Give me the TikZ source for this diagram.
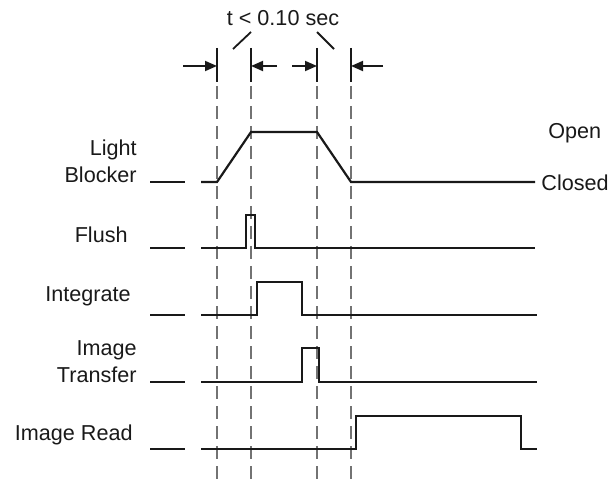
\documentclass[tikz,border=0pt]{standalone}
\usepackage{fontspec}
\setmainfont{Liberation Sans}
\usetikzlibrary{arrows.meta}
\tikzset{
  sig/.style={line width=1.1pt, black!90},
  guide/.style={gray!90!black, line width=0.6pt, dash pattern=on 6.5pt off 3.5pt},
  tick/.style={line width=0.9pt, black!90},
  dimarrow/.style={line width=0.9pt, black!90, -{Triangle[length=6pt,width=5pt]}},
  lbl/.style={font=\fontsize{10.8}{13.5}\selectfont, inner sep=0pt, text=black!90}
}
\begin{document}
\begin{tikzpicture}[x=0.5pt, y=-0.5pt]
\useasboundingbox (0,0) rectangle (609,480);
% time marks
\foreach \t in {217,251,317,351}{
  \draw[tick] (\t,48) -- (\t,82);
  \draw[guide] (\t,86) -- (\t,480);
}
\coordinate (m1) at (217,66); \coordinate (m2) at (251,66);
\coordinate (m3) at (317,66); \coordinate (m4) at (351,66);
\draw[dimarrow] (183,66) -- (m1);
\draw[dimarrow] (277,66) -- (m2);
\draw[dimarrow] (292,66) -- (m3);
\draw[dimarrow] (383,66) -- (m4);
\node[lbl] (tmax) at (283,18) {t < 0.10 sec};
\draw[tick] (233,49) -- (251,32);
\draw[tick] (317,32) -- (334,49);

% signal names
\node[lbl, anchor=east, align=right] (blocker) at (137,161) {Light\\Blocker};
\node[lbl, anchor=east] (flush) at (128,235) {Flush};
\node[lbl, anchor=east] (integ) at (131,296) {Integrate};
\node[lbl, anchor=east, align=right] (xfer) at (137,362) {Image\\Transfer};
\node[lbl, anchor=east] (read) at (133,435) {Image Read};
\node[lbl, anchor=west] (open) at (548,133) {Open};
\node[lbl, anchor=west] (closed) at (541,183) {Closed};

% waveforms
\foreach \y in {182,248,315,382,449}
  \draw[sig] (150,\y) -- (185,\y);
\draw[sig] (201,182) -- (217,182) -- (251,132) -- (317,132) -- (351,182) -- (535,182);
\draw[sig] (201,248) -- (246,248) -- (246,215) -- (255,215) -- (255,248) -- (535,248);
\draw[sig] (201,315) -- (257,315) -- (257,282) -- (302,282) -- (302,315) -- (537,315);
\draw[sig] (201,382) -- (302,382) -- (302,348) -- (319,348) -- (319,382) -- (537,382);
\draw[sig] (201,449) -- (356,449) -- (356,416) -- (521,416) -- (521,449) -- (537,449);
\end{tikzpicture}
\end{document}
